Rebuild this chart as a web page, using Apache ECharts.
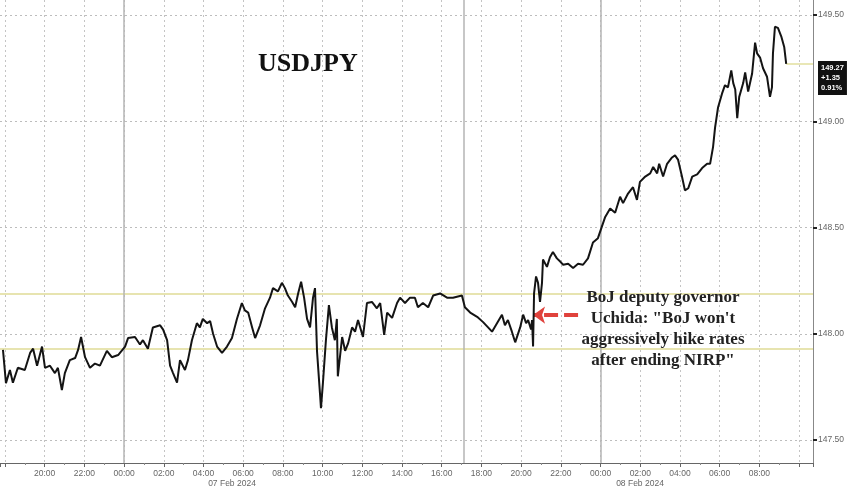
<!DOCTYPE html>
<html><head><meta charset="utf-8">
<script src="https://cdn.jsdelivr.net/npm/echarts@6/dist/echarts.min.js"></script>
<style>html,body{margin:0;padding:0;background:#fff}#c{width:848px;height:486px}</style>
</head><body><div id="c"></div>
<script>
// ---- data (day-of-Feb-2024 HH:MM, New York time) ----
const times = [
'06 17:54','06 18:03','06 18:15','06 18:24','06 18:39','06 19:00','06 19:16','06 19:25','06 19:37','06 19:52',
'06 20:01','06 20:16','06 20:31','06 20:40','06 20:52','06 21:01','06 21:16','06 21:32','06 21:41','06 21:50',
'06 22:02','06 22:17','06 22:32','06 22:47','06 23:08','06 23:23','06 23:42','07 00:03','07 00:12','07 00:33',
'07 00:48','07 00:57','07 01:12','07 01:27','07 01:49','07 01:58','07 02:10','07 02:19','07 02:28','07 02:40',
'07 02:49','07 03:04','07 03:13','07 03:25','07 03:40','07 03:49','07 03:58','07 04:11','07 04:20','07 04:29',
'07 04:41','07 04:56','07 05:11','07 05:26','07 05:41','07 05:56','07 06:05','07 06:15','07 06:27','07 06:36',
'07 06:51','07 07:06','07 07:21','07 07:30','07 07:45','07 07:57','07 08:06','07 08:15','07 08:28','07 08:37',
'07 08:46','07 08:55','07 09:04','07 09:13','07 09:22','07 09:31','07 09:37','07 09:43','07 09:52','07 09:55',
'07 10:01','07 10:10','07 10:19','07 10:28','07 10:37','07 10:43','07 10:46','07 10:59','07 11:08','07 11:17',
'07 11:29','07 11:38','07 11:47','07 12:02','07 12:14','07 12:29','07 12:44','07 12:54','07 13:06','07 13:15',
'07 13:30','07 13:45','07 13:54','07 14:09','07 14:24','07 14:39','07 14:48','07 15:03','07 15:19','07 15:34',
'07 15:55','07 16:16','07 16:34','07 17:01','07 17:10','07 17:26','07 17:47','07 18:05','07 18:20','07 18:32',
'07 18:47','07 19:02','07 19:11','07 19:20','07 19:32','07 19:42','07 19:57','07 20:06','07 20:15','07 20:21',
'07 20:30','07 20:33','07 20:36','07 20:39','07 20:45','07 20:51','07 20:57','07 21:03','07 21:06','07 21:18',
'07 21:27','07 21:36','07 21:48','07 21:58','07 22:07','07 22:22','07 22:37','07 22:52','07 23:07','07 23:22',
'07 23:37','07 23:52','08 00:14','08 00:29','08 00:44','08 00:59','08 01:08','08 01:23','08 01:38','08 01:50',
'08 01:59','08 02:15','08 02:30','08 02:39','08 02:51','08 02:57','08 03:09','08 03:21','08 03:36','08 03:45',
'08 03:54','08 04:06','08 04:15','08 04:25','08 04:37','08 04:52','08 05:07','08 05:22','08 05:31','08 05:40',
'08 05:46','08 05:55','08 06:07','08 06:16','08 06:25','08 06:35','08 06:41','08 06:47','08 06:53','08 06:59',
'08 07:11','08 07:17','08 07:26','08 07:38','08 07:47','08 07:53','08 08:02','08 08:11','08 08:23','08 08:32',
'08 08:38','08 08:41','08 08:47','08 08:56','08 09:06','08 09:15','08 09:21'
];
const usdjpy = [
147.924,147.768,147.83,147.77,147.84,147.83,147.91,147.93,147.85,147.94,
147.84,147.85,147.815,147.84,147.735,147.815,147.876,147.886,147.924,147.985,
147.89,147.84,147.86,147.85,147.92,147.89,147.90,147.94,147.98,147.985,
147.95,147.97,147.93,148.03,148.04,148.02,147.97,147.85,147.815,147.77,
147.876,147.83,147.876,147.97,148.05,148.03,148.07,148.05,148.06,148.00,
147.94,147.91,147.94,147.98,148.07,148.145,148.11,148.10,148.03,147.98,
148.04,148.12,148.17,148.215,148.20,148.24,148.215,148.18,148.15,148.125,
148.19,148.245,148.17,148.07,148.03,148.17,148.215,147.92,147.72,147.65,
147.77,147.97,148.135,148.03,147.97,148.07,147.80,147.985,147.92,147.955,
148.03,148.01,148.065,147.985,148.145,148.15,148.12,148.145,147.995,148.10,
148.075,148.145,148.17,148.145,148.17,148.17,148.125,148.145,148.125,148.18,
148.19,148.17,148.17,148.18,148.125,148.10,148.08,148.055,148.03,148.01,
148.05,148.09,148.04,148.065,148.01,147.96,148.03,148.09,148.05,148.065,
148.02,148.065,147.94,148.19,148.27,148.24,148.15,148.24,148.35,148.315,
148.36,148.385,148.355,148.34,148.325,148.33,148.31,148.33,148.325,148.355,
148.43,148.45,148.55,148.59,148.57,148.645,148.615,148.66,148.69,148.63,
148.715,148.74,148.755,148.785,148.755,148.80,148.74,148.80,148.83,148.84,
148.82,148.74,148.675,148.685,148.74,148.75,148.78,148.80,148.80,148.88,
148.97,149.065,149.13,149.17,149.16,149.24,149.18,149.15,149.015,149.115,
149.18,149.23,149.14,149.225,149.37,149.32,149.30,149.25,149.21,149.115,
149.16,149.32,149.445,149.44,149.40,149.35,149.27
];
const refLevels = [148.185, 147.927];
const sessionLines = ['07 00:00', '07 17:06', '08 00:00'];
const dateLabels = ['07 Feb 2024', '08 Feb 2024'];
const lastPrice = 149.27, netChange = '+1.35', pctChange = '0.91%';
const title = 'USDJPY';
const annotation = 'BoJ deputy governor\nUchida: "BoJ won\'t\naggressively hike rates\nafter ending NIRP"';
const arrowTail = ['07 22:52', 148.088];
const arrowHead = ['07 20:36', 148.088];

// ---- helpers ----
function hrs(s) { const [d, hm] = s.split(' '); const [h, m] = hm.split(':').map(Number); return (Number(d) - 6) * 24 + h + m / 60; }
const seriesData = times.map((t, i) => [hrs(t), usdjpy[i]]);
const xMin = 17.75, xMax = 58.7;
const yMin = 147.392, yMax = 149.571;
const lastX = hrs(times[times.length - 1]);

const chart = echarts.init(document.getElementById('c'), null, { renderer: 'canvas' });
const sans = 'Liberation Sans, Arial, sans-serif';
const serif = 'Liberation Serif, Times New Roman, serif';

chart.setOption({
  animation: false,
  backgroundColor: '#ffffff',
  grid: { left: 0, right: 35, top: 0, bottom: 23, containLabel: false, outerBoundsMode: 'none' },
  xAxis: {
    type: 'value', min: xMin, max: xMax, splitNumber: 20,
    axisLine: { show: true, lineStyle: { color: '#666', width: 1 } },
    axisTick: { show: true, length: 4, lineStyle: { color: '#666' } },
    minorTick: { show: true, splitNumber: 2, length: 2, lineStyle: { color: '#888' } },
    axisLabel: {
      interval: 0, showMinLabel: false, showMaxLabel: false, margin: 6,
      color: '#666', fontSize: 8.5, fontFamily: sans,
      formatter: v => { if (Math.abs(v - Math.round(v)) > 1e-6 || Math.round(v) % 2 !== 0 || v < 19 || v > 57) return ''; const h = Math.round(v) % 24; return String(h).padStart(2, '0') + ':00'; }
    },
    splitLine: { show: true, showMinLine: false, showMaxLine: false, lineStyle: { color: '#c4c4c4', type: [2, 3], width: 1 } }
  },
  yAxis: {
    type: 'value', position: 'right', min: yMin, max: yMax, splitNumber: 5,
    axisLine: { show: true, lineStyle: { color: '#888', width: 1 } },
    axisTick: { show: true, inside: false, length: 4, lineStyle: { color: '#222', width: 2 } },
    axisLabel: { showMinLabel: false, showMaxLabel: false, color: '#666', fontSize: 8.5, fontFamily: sans, margin: 5, formatter: v => v.toFixed(2) },
    splitLine: { show: true, showMinLine: false, showMaxLine: false, lineStyle: { color: '#bdbdbd', type: [2, 3], width: 1 } }
  },
  series: [{
    type: 'line', data: seriesData, showSymbol: false, symbol: 'none', z: 3,
    lineStyle: { color: '#141414', width: 2 },
    markLine: {
      silent: true, z: 1, symbol: 'none', animation: false,
      label: { show: false },
      data: [
        ...refLevels.map(v => ({ yAxis: v, lineStyle: { color: '#e7e4b0', width: 2, type: 'solid' }, label: { show: false } })),
        ...sessionLines.map(s => ({ xAxis: hrs(s), lineStyle: { color: '#b4b4b4', width: 1.5, type: 'solid' }, label: { show: false } })),
        [
          { coord: [lastX, lastPrice], symbol: 'none', lineStyle: { color: '#e2df9e', width: 1.5, type: 'solid' },
            label: { show: true, position: 'end', distance: 5, offset: [0, 14], formatter: lastPrice.toFixed(2) + '\n' + netChange + '\n' + pctChange,
              backgroundColor: '#111', color: '#fff', fontSize: 7.5, lineHeight: 10, padding: [2, 3, 2, 3], fontFamily: sans, fontWeight: 'bold', align: 'left' } },
          { coord: [xMax, lastPrice], symbol: 'none' }
        ],
        [
          { coord: [hrs(arrowTail[0]), arrowTail[1]], symbol: 'none', lineStyle: { color: '#e0423c', width: 4, type: [14, 6] }, label: { show: false } },
          { coord: [hrs(arrowHead[0]), arrowHead[1]], symbol: 'arrow', symbolSize: [13, 12] }
        ]
      ]
    }
  }],
  graphic: [
    { type: 'text', left: 258, top: 51, z: 10, style: { text: title, font: 'bold 26px ' + serif, fill: '#111', shadowColor: 'rgba(0,0,0,0.45)', shadowBlur: 3, shadowOffsetX: 2, shadowOffsetY: 2 } },
    { type: 'text', x: 663, y: 287, z: 10, style: { text: annotation, font: 'bold 17px ' + serif, fill: '#222', align: 'center', lineHeight: 21, shadowColor: 'rgba(0,0,0,0.3)', shadowBlur: 2, shadowOffsetX: 1, shadowOffsetY: 1 } },
    { type: 'text', x: 232, y: 479, z: 10, style: { text: dateLabels[0], font: '8.5px ' + sans, fill: '#666', align: 'center' } },
    { type: 'text', x: 640, y: 479, z: 10, style: { text: dateLabels[1], font: '8.5px ' + sans, fill: '#666', align: 'center' } }
  ]
});
</script>
</body></html>
